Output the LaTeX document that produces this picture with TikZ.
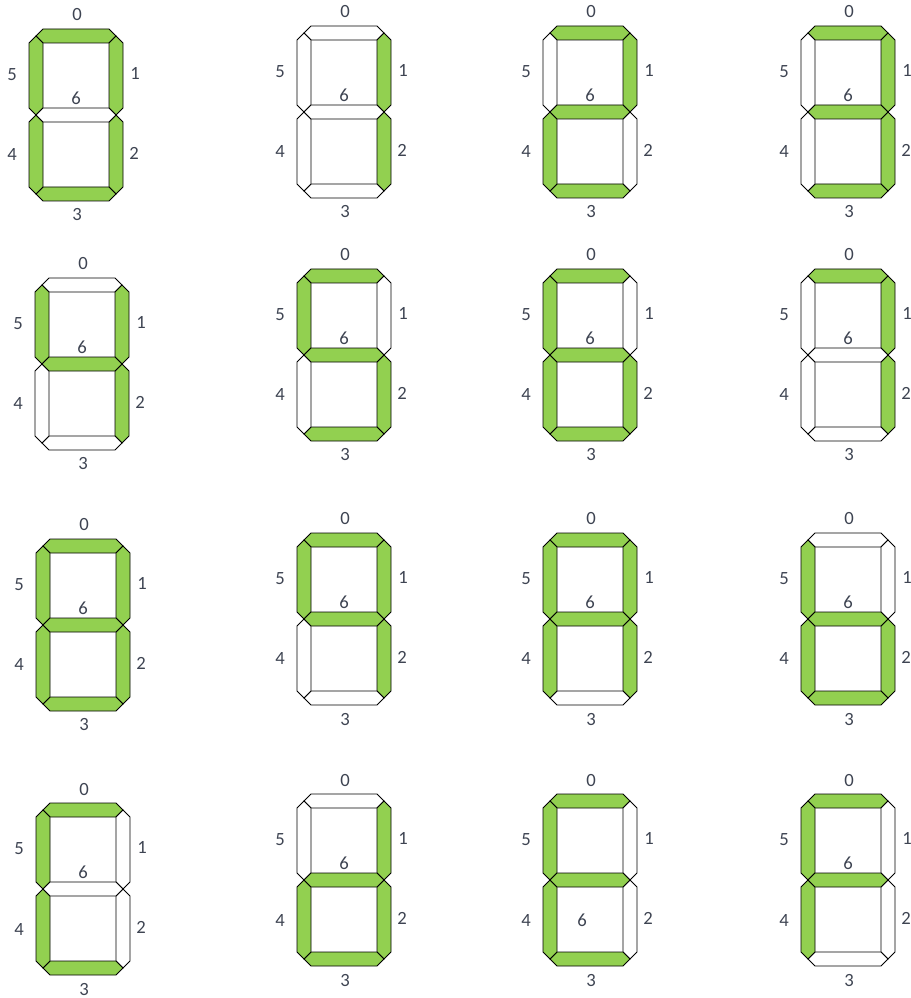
\documentclass[tikz,border=0pt]{standalone}
\usepackage{fontspec}
\setmainfont{Carlito}
\usepackage{tikz}
\definecolor{segon}{RGB}{146,208,80}
\definecolor{labtxt}{RGB}{62,68,82}
\tikzset{
    seg/.style={draw=black,line width=0.6pt,line join=miter},
    lit/.style={fill=segon},
    unlit/.style={fill=white},
    lab/.style={inner sep=0pt,text=labtxt,font=\fontsize{14}{16}\selectfont},
}
% one bar of the display, tip at (#1,#2)
\newcommand{\hseg}[2]{(#1,#2) -- ++(7,-7) -- ++(66,0) -- ++(7,7) -- ++(-7,7) -- ++(-66,0) -- cycle}
\newcommand{\vseg}[2]{(#1,#2) -- ++(7,7) -- ++(0,65) -- ++(-7,7) -- ++(-7,-7) -- ++(0,-65) -- cycle}

\begin{document}
\begin{tikzpicture}[x=0.75pt,y=-0.75pt]
\useasboundingbox (0,0) rectangle (910,998);

% name/left/top/segments 0..6/position of label 6
\foreach \n/\L/\T/\sa/\sb/\sc/\sd/\se/\sf/\sg/\px/\py in {
    h0/28/28/lit/lit/lit/lit/lit/lit/unlit/48/70,
    h1/296/25/unlit/lit/lit/unlit/unlit/unlit/unlit/48/70,
    h2/542/25/lit/lit/unlit/lit/lit/unlit/lit/48/70,
    h3/800/25/lit/lit/lit/lit/unlit/unlit/lit/48/70,
    h4/34/277/unlit/lit/lit/unlit/unlit/lit/lit/48/70,
    h5/296/268/lit/unlit/lit/lit/unlit/lit/lit/48/70,
    h6/542/268/lit/unlit/lit/lit/lit/lit/lit/48/70,
    h7/800/268/lit/lit/lit/unlit/unlit/unlit/unlit/48/70,
    h8/35/538/lit/lit/lit/lit/lit/lit/lit/48/70,
    h9/296/532/lit/lit/lit/unlit/unlit/lit/lit/48/70,
    hA/542/532/lit/lit/lit/unlit/lit/lit/lit/48/70,
    hb/800/532/unlit/unlit/lit/lit/lit/lit/lit/48/70,
    hC/35/802/lit/unlit/unlit/lit/lit/lit/unlit/48/70,
    hd/296/793/unlit/lit/lit/lit/lit/unlit/lit/48/70,
    hE/542/793/lit/unlit/unlit/lit/lit/lit/lit/40/127,
    hF/800/793/lit/unlit/unlit/unlit/lit/lit/lit/48/70}{
  \begin{scope}[shift={(\L,\T)}]
    \draw[seg,\sa] \hseg{8}{8};
    \draw[seg,\sb] \vseg{88}{8};
    \draw[seg,\sc] \vseg{88}{87};
    \draw[seg,\sd] \hseg{8}{166};
    \draw[seg,\se] \vseg{8}{87};
    \draw[seg,\sf] \vseg{8}{8};
    \draw[seg,\sg] \hseg{8}{87};
    \node[lab] (\n-0) at (49,-13) {0};
    \node[lab] (\n-1) at (107,45) {1};
    \node[lab] (\n-2) at (106,125) {2};
    \node[lab] (\n-3) at (49,187) {3};
    \node[lab] (\n-4) at (-16,127) {4};
    \node[lab] (\n-5) at (-16,47) {5};
    \node[lab] (\n-6) at (\px,\py) {6};
  \end{scope}
}
\end{tikzpicture}
\end{document}
